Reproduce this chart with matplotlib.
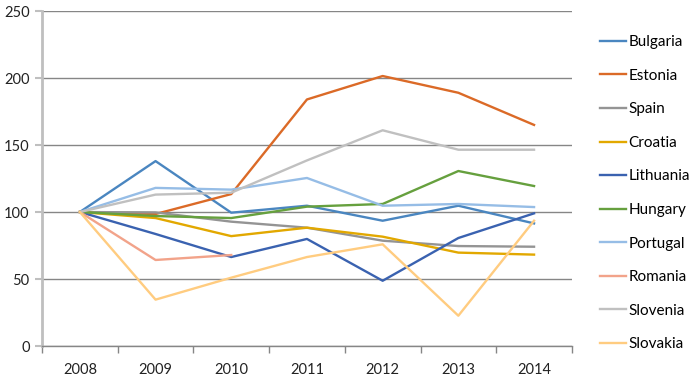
import matplotlib.pyplot as plt
import numpy as np

plt.rcParams['font.family'] = ['Lato', 'DejaVu Sans']

years = ['2008', '2009', '2010', '2011', '2012', '2013', '2014']
countries = ['Bulgaria', 'Estonia', 'Spain', 'Croatia', 'Lithuania',
             'Hungary', 'Portugal', 'Romania', 'Slovenia', 'Slovakia']
nan = np.nan
bulgaria = [100, 138, 99.5, 104.7, 93.5, 104.7, 91.5]
estonia = [100, 98.5, 113.4, 184, 201.5, 189, 165]
spain = [100, 99.7, 92.8, 88.3, 78.6, 74.6, 74.1]
croatia = [100, 95.5, 82, 88.3, 81.6, 69.7, 68.2]
lithuania = [100, 83.6, 66.4, 79.9, 48.7, 80.6, 99]
hungary = [100, 97, 95.5, 104, 106, 130.6, 119.4]
portugal = [100, 118, 116.7, 125.4, 104.7, 106, 103.7]
romania = [100, 64.2, 67.9, nan, nan, nan, nan]
slovenia = [100, 113, 114.4, 138.5, 161, 146.5, 146.5]
slovakia = [100, 34.6, 51, 66.4, 75.9, 22.6, 93.5]
series = [bulgaria, estonia, spain, croatia, lithuania,
          hungary, portugal, romania, slovenia, slovakia]
colors = ['#4A86C0', '#DB6A27', '#949494', '#E2A800', '#3A62B0',
          '#66A03E', '#96BDE6', '#F2A38A', '#C0C0C0', '#FFCC80']

fig = plt.figure(figsize=(7, 3.83), dpi=100)
ax = fig.add_axes([0.06, 0.0966, 0.757, 0.8746])

x = np.arange(len(years))
for name, vals, c in zip(countries, series, colors):
    ax.plot(x, vals, color=c, lw=1.7, label=name)

ax.set_xlim(-0.5, len(years) - 0.5)
ax.set_ylim(0, 250)
ax.set_yticks(range(0, 251, 50))
ax.grid(axis='y', color='#868686', lw=1)
ax.set_axisbelow(True)

ax.set_xticks(x)
ax.set_xticklabels(years)
ax.set_xticks(np.arange(-0.5, len(years), 1), minor=True)
ax.tick_params(axis='x', which='major', length=0, pad=12, labelsize=10.5, colors='#222222')
ax.tick_params(axis='x', which='minor', length=5, color='#868686', width=1)
ax.tick_params(axis='y', length=5, color='#BFBFBF', width=1.5, labelsize=10.5, colors='#222222', pad=4)
for s in ['top', 'right']:
    ax.spines[s].set_visible(False)
ax.spines['left'].set_color('#BFBFBF')
ax.spines['left'].set_linewidth(2)
ax.spines['bottom'].set_color('#868686')
ax.spines['bottom'].set_linewidth(1)

leg = fig.legend(loc='upper left', bbox_to_anchor=(0.837, 0.944), frameon=False,
                 fontsize=11, handlelength=1.7, handletextpad=0.2,
                 labelspacing=1.28)

fig.savefig('out.png', dpi=100)
